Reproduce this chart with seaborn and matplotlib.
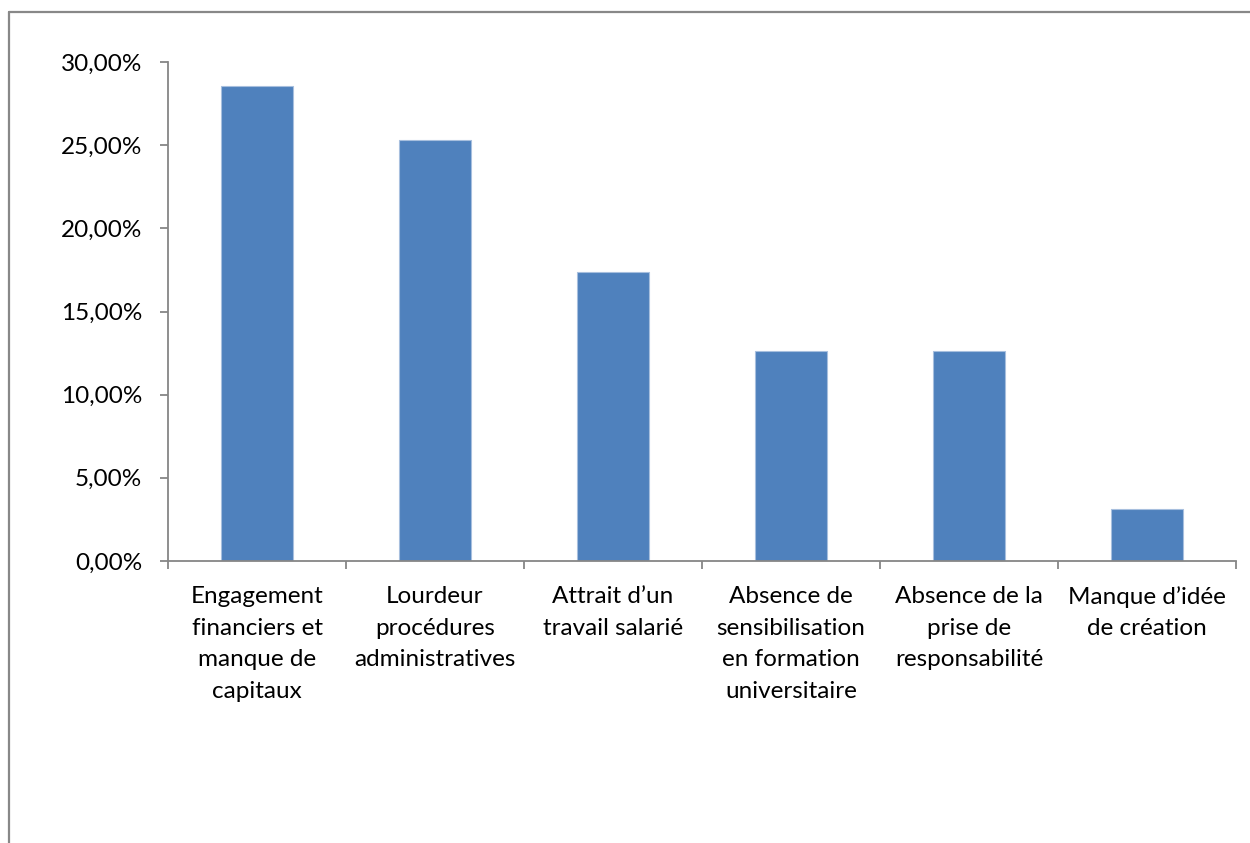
import matplotlib
matplotlib.use("Agg")
import matplotlib.pyplot as plt
import seaborn as sns
import pandas as pd
from matplotlib.ticker import FuncFormatter, FixedLocator
from matplotlib.lines import Line2D

categories = [
    "Engagement\nfinanciers et\nmanque de\ncapitaux",
    "Lourdeur\nprocédures\nadministratives",
    "Attrait d\u2019un\ntravail salarié",
    "Absence de\nsensibilisation\nen formation\nuniversitaire",
    "Absence de la\nprise de\nresponsabilité",
    "Manque d\u2019idée\nde création",
]
values = [0.2857, 0.2530, 0.1740, 0.1260, 0.1260, 0.0310]
y_ticks = [0.0, 0.05, 0.10, 0.15, 0.20, 0.25, 0.30]

sns.set_style("white")
plt.rcParams['font.family'] = ['Lato', 'DejaVu Sans']

df = pd.DataFrame({"cat": categories, "val": values})

fig = plt.figure(figsize=(12.5, 8.43), dpi=100)
ax = fig.add_axes([168/1250, 1-561/843, (1236-168)/1250, (561-62)/843])

sns.barplot(data=df, x="cat", y="val", color="#4F81BD", width=0.4,
            edgecolor="#A7BFDE", linewidth=0.8, saturation=1, ax=ax)

ax.set_xlim(-0.5, len(categories) - 0.5)
ax.set_ylim(0, 0.30)
ax.set_yticks(y_ticks)
ax.yaxis.set_major_formatter(FuncFormatter(lambda v, p: f"{v*100:.2f}".replace(".", ",") + "%"))
ax.set_xlabel("")
ax.set_ylabel("")

for s in ["top", "right"]:
    ax.spines[s].set_visible(False)
for s in ["left", "bottom"]:
    ax.spines[s].set_color("#868686")
    ax.spines[s].set_linewidth(1.3)

ax.tick_params(axis="y", direction="out", length=5.5, width=1.3, color="#868686",
               labelsize=17.5, pad=13, labelcolor="black", left=True)
ax.xaxis.set_minor_locator(FixedLocator([i - 0.5 for i in range(len(categories) + 1)]))
ax.tick_params(axis="x", which="minor", direction="out", length=5.5, width=1.3,
               color="#868686", bottom=True)
ax.tick_params(axis="x", which="major", length=0, labelsize=17.5, pad=18, labelcolor="black")
for lab in ax.get_xticklabels():
    lab.set_multialignment("center")
    lab.set_linespacing(1.62)

# outer frame (partial, as in the reference)
fig.add_artist(Line2D([9/1250, 9/1250], [0, 1-12/843], transform=fig.transFigure,
                      color="#888888", linewidth=1.6))
fig.add_artist(Line2D([9/1250, 1], [1-12/843, 1-12/843], transform=fig.transFigure,
                      color="#888888", linewidth=1.6))

fig.savefig("out.png", dpi=100)
